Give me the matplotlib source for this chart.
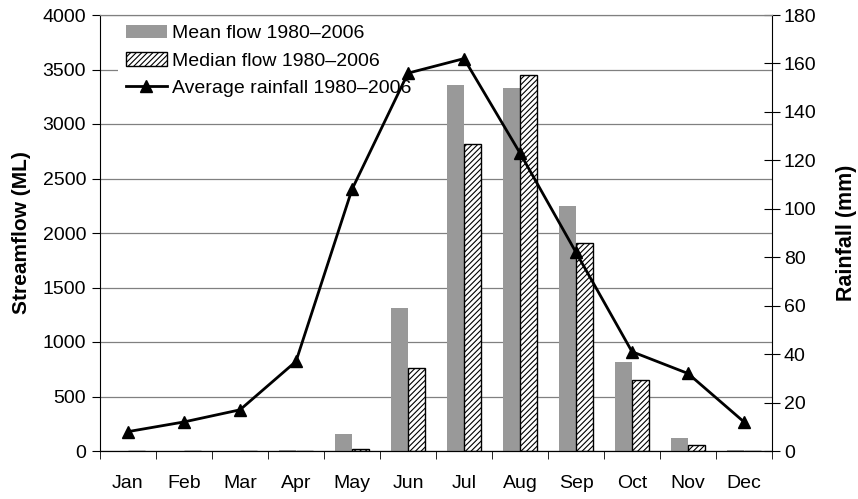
import matplotlib
matplotlib.use("Agg")
import matplotlib.pyplot as plt
import numpy as np

plt.rcParams['font.family'] = ['Liberation Sans', 'DejaVu Sans']
plt.rcParams['hatch.linewidth'] = 0.8

months = ["Jan", "Feb", "Mar", "Apr", "May", "Jun", "Jul", "Aug", "Sep", "Oct", "Nov", "Dec"]
mean_flow = [0, 0, 0, 10, 160, 1310, 3360, 3330, 2250, 820, 120, 10]
median_flow = [0, 0, 0, 0, 15, 760, 2820, 3450, 1910, 650, 55, 0]
rainfall = [8, 12, 17, 37, 108, 156, 162, 123, 82, 41, 32, 12]

FS = 14
fig = plt.figure(figsize=(8.58, 4.99), dpi=100)
ax = fig.add_axes([100/858, 1-451/499, 672/858, 436/499])
x = np.arange(len(months))
w = 0.3
b1 = ax.bar(x - w/2, mean_flow, w, color='#999999', edgecolor='none', zorder=2)
b2 = ax.bar(x + w/2, median_flow, w, color='white', edgecolor='black', hatch='//////', linewidth=1.0, zorder=2)
ax.set_xlim(-0.5, 11.5)
ax.set_ylim(0, 4000)
ax.set_yticks(np.arange(0, 4001, 500))
ax.yaxis.grid(True, color='#808080', linewidth=0.9, zorder=0)
ax.set_axisbelow(True)
ax.set_xticks(x)
ax.set_xticklabels(months, fontsize=FS)
ax.set_xticks(np.arange(-0.5, 12, 1), minor=True)
ax.tick_params(axis='x', which='major', length=0, pad=17)
ax.tick_params(axis='x', which='minor', length=6, direction='out', color='black')
ax.tick_params(axis='y', labelsize=FS, length=6, direction='out', pad=4)
ax.set_ylabel('Streamflow (ML)', fontsize=15, fontweight='bold', labelpad=8)
ax.spines['top'].set_color('#808080')
ax.spines['right'].set_visible(False)

ax2 = ax.twinx()
l, = ax2.plot(x, rainfall, color='black', marker='^', markersize=9, linewidth=2, zorder=3)
ax2.set_ylim(0, 180)
ax2.set_yticks(np.arange(0, 181, 20))
ax2.tick_params(axis='y', labelsize=FS, length=11, direction='inout', pad=3)
ax2.set_ylabel('Rainfall (mm)', fontsize=15.5, fontweight='bold', labelpad=14)
ax2.spines['top'].set_color('#808080')
ax2.spines['left'].set_visible(False)

leg = ax.legend([b1, b2, l], ['Mean flow 1980–2006', 'Median flow 1980–2006', 'Average rainfall 1980–2006'],
                loc='upper left', bbox_to_anchor=(118/858, 1-17/499), bbox_transform=fig.transFigure,
                frameon=True, fontsize=FS, handlelength=2.1, handletextpad=0.3,
                labelspacing=0.5, borderaxespad=0, borderpad=0.4, fancybox=False)
leg.get_frame().set_edgecolor('none')
leg.get_frame().set_facecolor('white')
leg.get_frame().set_alpha(1)

fig.savefig('out.png', dpi=100)
